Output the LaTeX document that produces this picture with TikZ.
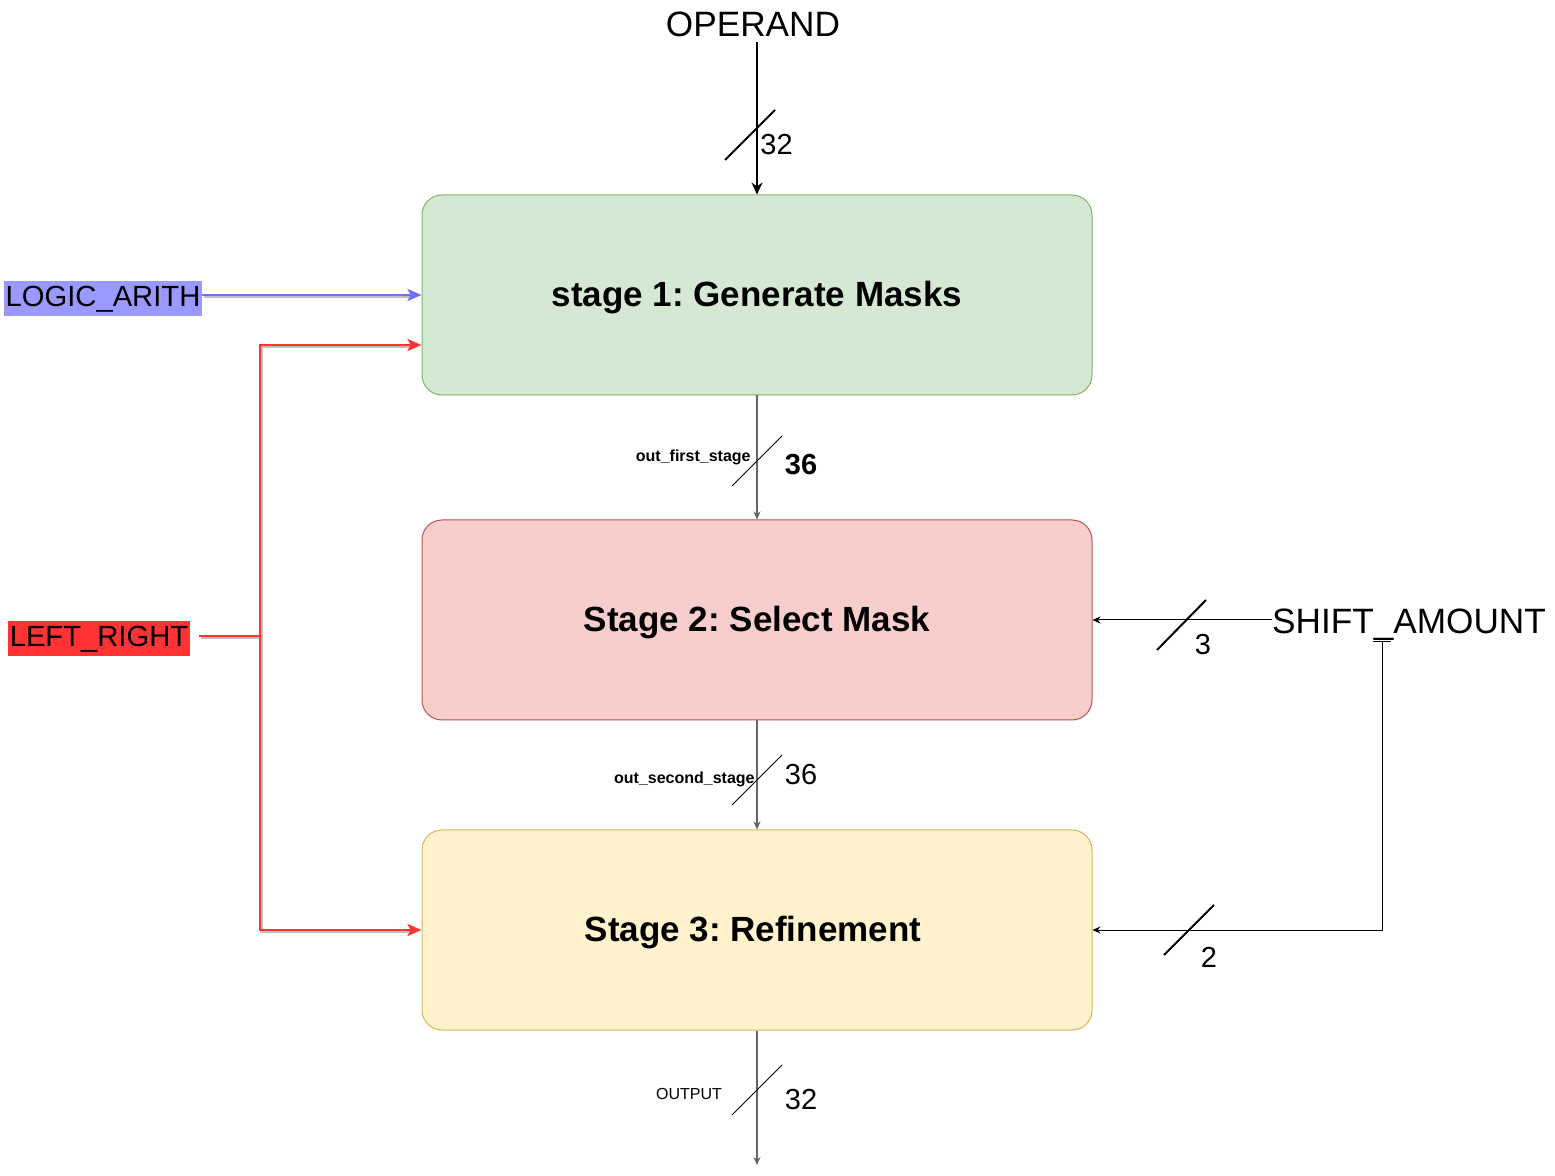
\documentclass[tikz,border=0pt]{standalone}
\usepackage{fontspec}
\setmainfont{Liberation Sans}
\frenchspacing
\usetikzlibrary{arrows.meta}
\definecolor{gfill}{HTML}{D5E8D4}
\definecolor{gdraw}{HTML}{82B366}
\definecolor{rfill}{HTML}{F8CECC}
\definecolor{rdraw}{HTML}{B85450}
\definecolor{yfill}{HTML}{FFF2CC}
\definecolor{ydraw}{HTML}{D6B656}
\definecolor{lablue}{HTML}{9999FF}
\definecolor{lnblue}{HTML}{6E6EFF}
\definecolor{lnred}{HTML}{FF3333}
\tikzset{
  >=Stealth,
  stage/.style={rectangle, rounded corners=10pt, line width=0.5pt, minimum width=335pt, minimum height=100pt},
  title/.style={inner sep=0pt, font=\fontsize{17.5}{20}\selectfont\bfseries},
  sig/.style={inner sep=0pt, font=\fontsize{17.6}{20}\selectfont},
  ctl/.style={inner sep=0pt, inner xsep=0.8pt, minimum height=17.5pt, font=\fontsize{14.6}{17}\selectfont},
  num/.style={inner sep=0pt, font=\fontsize{14.5}{17}\selectfont},
  small/.style={inner sep=0pt, font=\fontsize{8}{10}\selectfont\bfseries},
  bus/.style={line width=0.6pt, black!60, -{Stealth[length=4pt,width=3.5pt]}},
  thin/.style={line width=0.5pt, -{Stealth[length=4pt,width=3.5pt]}},
  thickbus/.style={line width=0.9pt, -{Stealth[length=6pt,width=5.5pt]}},
  slash/.style={line width=0.5pt},
  slashthick/.style={line width=1pt},
  ctlline/.style={line width=1.2pt, -{Stealth[length=7pt,width=6pt,inset=1.5pt]}},
  shadowln/.style={line width=1.2pt, black!25}
}
\begin{document}
\begin{tikzpicture}[x=0.5pt, y=-0.5pt]
    \useasboundingbox (0,0) rectangle (1555,1176);

    % stages
    \node[stage, fill=gfill, draw=gdraw] (s1) at (757,295) {};
    \node[stage, fill=rfill, draw=rdraw] (s2) at (757,620) {};
    \node[stage, fill=yfill, draw=ydraw] (s3) at (757,930) {};
    \node[title] (t1) at (757,298) {stage 1: Generate Masks};
    \node[title] (t2) at (757,623) {Stage 2: Select Mask};
    \node[title] (t3) at (753,933) {Stage 3: Refinement};

    % operand input
    \node[sig] (op) at (753,24) {OPERAND};
    \coordinate (opin) at (757,42);
    \draw[thickbus] (opin) -- (s1.north);
    \draw[slashthick] (725,160) -- (775,110);
    \node[num, anchor=west] (opw) at (760,145) {32};

    % between stages
    \draw[bus] (s1.south) -- (s2.north);
    \draw[slash] (732,486) -- (782,436);
    \node[small, anchor=east] (o1) at (751,457) {out\_first\_stage};
    \node[num, font=\fontsize{14.5}{17}\selectfont\bfseries] (o1w) at (801,465) {36};

    \draw[bus] (s2.south) -- (s3.north);
    \draw[slash] (732,805) -- (782,755);
    \node[small, anchor=east] (o2) at (755,779) {out\_second\_stage};
    \node[num] (o2w) at (801,775) {36};

    % output
    \coordinate (outend) at (757,1165);
    \draw[bus] (s3.south) -- (outend);
    \draw[slash] (732,1115) -- (782,1065);
    \node[small, font=\fontsize{8}{10}\selectfont] (out) at (689,1094) {OUTPUT};
    \node[num] (outw) at (801,1100) {32};

    % control inputs
    \node[ctl, fill=lablue] (la) at (103,299) {LOGIC\_ARITH};
    \node[ctl, fill=lnred] (lr) at (99,639) {LEFT\_RIGHT};
    \coordinate (lrj) at (260,636);

    \begin{scope}[transform canvas={shift={(0.7pt,-0.7pt)}}]
      \draw[shadowln] (la.east |- s1.west) -- ([xshift=-6pt]s1.west);
      \draw[shadowln] ([xshift=4.5pt]lr.east |- lrj) -- (lrj);
      \draw[shadowln] (lrj) |- ([xshift=-6pt,yshift=-25pt]s1.west);
      \draw[shadowln] (lrj) |- ([xshift=-6pt]s3.west);
    \end{scope}

    \draw[ctlline, lnblue] (la.east |- s1.west) -- (s1.west);
    \draw[ctlline, lnred, -] ([xshift=4.5pt]lr.east |- lrj) -- (lrj);
    \draw[ctlline, lnred] (lrj) |- ([yshift=-25pt]s1.west);
    \draw[ctlline, lnred] (lrj) |- (s3.west);

    % shift amount
    \node[sig] (sa) at (1409,625) {SHIFT\_AMOUNT};
    \draw[thin] (sa.west |- s2.east) -- (s2.east);
    \draw[slashthick] (1157,650) -- (1206,600);
    \node[num] (saw3) at (1203,645) {3};

    \coordinate (satap) at (1382,641);
    \draw[thin, {Bar[width=9pt,line width=0.5pt]}-{Stealth[length=4pt,width=3.5pt]}] (satap) |- (s3.east);
    \draw[slashthick] (1164,955) -- (1214,905);
    \node[num] (saw2) at (1209,957) {2};
\end{tikzpicture}
\end{document}
